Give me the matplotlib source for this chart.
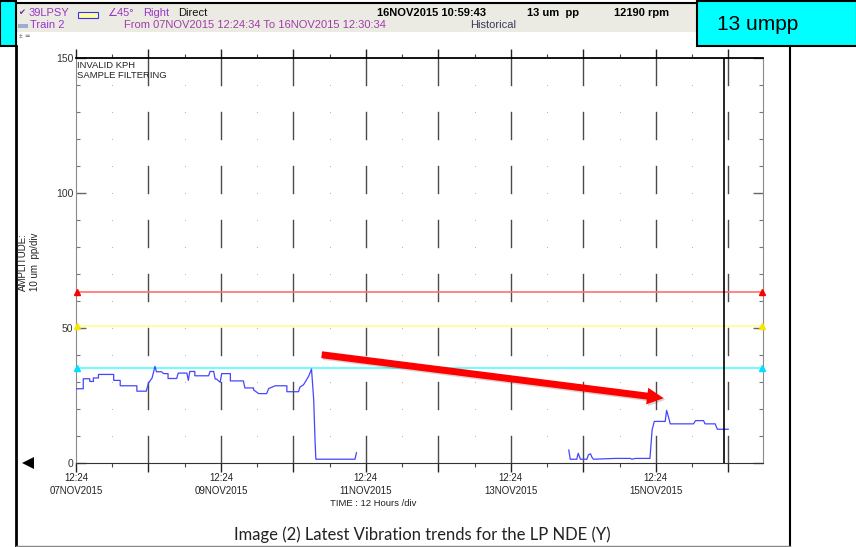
import matplotlib
matplotlib.use('Agg')
from matplotlib import pyplot as plt
from matplotlib.patches import Rectangle, Polygon
from matplotlib.lines import Line2D
import matplotlib.patheffects as pe

plt.rcParams['font.family'] = ['Liberation Sans', 'DejaVu Sans']

W, H = 856, 547

# time in days after 07NOV2015 12:24, amplitude in um pp
t1 = [0.00, 0.10, 0.10, 0.19, 0.19, 0.24, 0.24, 0.31, 0.31, 0.52, 0.52, 0.61, 0.61, 0.84,
      0.84, 0.97, 1.00, 1.05, 1.09, 1.11, 1.18, 1.21, 1.27, 1.27, 1.39, 1.41, 1.53, 1.55,
      1.57, 1.64, 1.64, 1.83, 1.85, 1.90, 1.92, 1.94, 1.99, 2.01, 2.13, 2.13, 2.31, 2.33,
      2.45, 2.45, 2.52, 2.63, 2.66, 2.75, 2.91, 2.91, 3.07, 3.09, 3.14, 3.21, 3.25, 3.28,
      3.30, 3.31, 3.85, 3.87]
a1 = [27.5, 27.5, 31.2, 31.2, 30.2, 30.2, 31.5, 31.5, 32.8, 32.8, 30.6, 30.6, 28.6, 28.6,
      26.6, 26.6, 29.6, 31.5, 35.8, 33.8, 33.8, 33.1, 33.1, 31.3, 31.3, 33.3, 33.3, 30.6,
      33.9, 33.9, 32.3, 32.3, 33.9, 33.9, 31.1, 31.1, 29.9, 33.1, 33.1, 30.4, 30.4, 27.8,
      27.8, 27.1, 25.7, 25.7, 27.6, 28.6, 28.6, 26.4, 26.4, 28.1, 29.0, 32.1, 34.8, 23.4,
      7.3, 1.4, 1.4, 3.8]

t2 = [6.80, 6.82, 6.91, 6.93, 6.96, 7.05, 7.07, 7.10, 7.12, 7.14, 7.44, 7.65, 7.67, 7.72,
      7.92, 7.95, 7.98, 8.13, 8.15, 8.18, 8.20, 8.52, 8.55, 8.66, 8.68, 8.82, 8.85, 9.00]
a2 = [4.8, 1.4, 1.4, 3.6, 1.4, 1.4, 3.0, 3.4, 2.1, 1.4, 1.7, 1.7, 1.4, 1.7,
      1.7, 12.3, 15.4, 15.4, 19.5, 16.6, 14.5, 14.5, 15.7, 15.7, 14.5, 14.5, 12.5, 12.5]

alarm_levels = [63.2, 50.7, 35.1]
alarm_colors = ['#ff7070', '#ffff90', '#50ffff']
marker_colors = ['#ff0000', '#f5e600', '#00e0ff']

day_ticks = list(range(10))
day_labels = ['12:24\n07NOV2015', '', '12:24\n09NOV2015', '', '12:24\n11NOV2015', '',
              '12:24\n13NOV2015', '', '12:24\n15NOV2015', '']
half_ticks = [d + 0.5 for d in range(9)]
y_major = [0, 50, 100, 150]
y_minor = list(range(0, 151, 10))

cursor_day = 8.94  # 16NOV2015 10:59:43
x_end = 9.48

arrow_from = (3.39, 40.1)
arrow_to = (8.11, 24.0)


def fx(px):
    return px / W


def fy(py):
    return 1 - py / H


fig = plt.figure(figsize=(W / 100, H / 100), dpi=100)
ax = fig.add_axes([fx(76), 84 / H, 687 / W, 405 / H])

# dashed day gridlines and dotted half-day grid
for d in range(1, 10):
    for y0 in range(0, 150, 20):
        ax.plot([d, d], [y0, y0 + 10], color='#4a4a4a', lw=1.0, zorder=1)
for h in half_ticks:
    ax.plot([h] * len(y_minor[1:-1]), y_minor[1:-1], ls='none', marker='s', ms=0.7,
            color='#b5b5b5', mew=0, zorder=1)

# alarm lines
for lvl, c, mc in zip(alarm_levels, alarm_colors, marker_colors):
    ax.plot([0, x_end], [lvl, lvl], color=c, lw=1.2, zorder=2)
    ax.plot([0.02, x_end - 0.02], [lvl, lvl], ls='none', marker='^', ms=4.5, color=mc,
            clip_on=False, zorder=3)

# trend
ax.plot(t1, a1, color='#4545ff', lw=0.9, zorder=4)
ax.plot(t2, a2, color='#4545ff', lw=0.9, zorder=4)

# cursor
ax.plot([cursor_day, cursor_day], [0, 150], color='black', lw=1.2, zorder=5)

ax.set_xlim(0, x_end)
ax.set_ylim(0, 150)
ax.set_xticks(day_ticks)
ax.set_xticklabels(day_labels)
ax.set_xticks(half_ticks, minor=True)
ax.set_yticks(y_major)
ax.set_yticks(y_minor, minor=True)
ax.tick_params(axis='x', which='major', direction='out', length=6.5, width=1,
               top=True, color='#222222', labelsize=7, pad=1, labelcolor='#222222')
ax.tick_params(axis='x', which='minor', direction='out', length=3, width=0.8,
               top=True, color='#444444')
ax.tick_params(axis='y', which='major', direction='in', length=7, width=1, right=True,
               color='#666666', labelsize=7.5, pad=2, labelcolor='#333333')
ax.tick_params(axis='y', which='minor', direction='in', length=3, width=0.8, right=True,
               color='#777777')
for lab in ax.get_xticklabels():
    lab.set_linespacing(1.3)

ax.spines['top'].set_color('black')
ax.spines['top'].set_linewidth(1.3)
ax.spines['bottom'].set_color('#333333')
ax.spines['left'].set_color('#8a8a8a')
ax.spines['right'].set_color('#8a8a8a')

ax.text(0.002, 0.993, 'INVALID KPH\nSAMPLE FILTERING', transform=ax.transAxes, va='top',
        ha='left', fontsize=6.8, color='#222222', linespacing=1.15)

ax.annotate('', xy=arrow_to, xytext=arrow_from,
            arrowprops=dict(arrowstyle='simple,head_length=1.2,head_width=1.2,tail_width=0.5',
                            mutation_scale=10, color='#ff0000', lw=0, shrinkA=0, shrinkB=0,
                            path_effects=[pe.SimplePatchShadow(offset=(1.2, -1.2), alpha=0.18),
                                          pe.Normal()]),
            zorder=6)

# page frame
fig.add_artist(Line2D([fx(16), fx(16)], [fy(46), fy(547)], color='black', lw=2))
fig.add_artist(Line2D([fx(790), fx(790)], [fy(46), fy(547)], color='black', lw=1.5))
fig.add_artist(Line2D([fx(16), fx(790)], [fy(546), fy(546)], color='#888888', lw=1))

# header strip
fig.add_artist(Rectangle((fx(17), fy(32)), (697 - 17) / W, 29 / H,
                         facecolor='#ebebe3', edgecolor='none'))
fig.add_artist(Line2D([fx(16), fx(697)], [fy(3), fy(3)], color='black', lw=1.5))
fig.add_artist(Rectangle((fx(0), fy(46)), 16 / W, 45 / H, facecolor='#00ffff',
                         edgecolor='black', lw=1.5))
fig.add_artist(Rectangle((fx(697), fy(46)), 160 / W, 45 / H, facecolor='#00ffff',
                         edgecolor='black', lw=1.5))
fig.text(fx(717), fy(24), '13 umpp', fontsize=15, va='center', ha='left')

fig.add_artist(Rectangle((fx(78), fy(18)), 20 / W, 6 / H, facecolor='#ffff99',
                         edgecolor='#3333ff', lw=0.8))
fig.add_artist(Rectangle((fx(18), fy(28)), 10 / W, 4 / H, facecolor='#9aaed0',
                         edgecolor='none'))
purple = '#9a35c8'
hdr = dict(fontsize=8, va='center', ha='left')
fig.text(fx(18), fy(13), '\u2714', color='#6a2a8a', fontsize=6, va='center', ha='left')
fig.text(fx(29), fy(13), '39LPSY', color=purple, **hdr)
fig.text(fx(107), fy(13), '\u222045\u00b0', color=purple, **hdr)
fig.text(fx(143), fy(13), 'Right', color=purple, **hdr)
fig.text(fx(178), fy(13), 'Direct', color='#111111', **hdr)
fig.text(fx(377), fy(13), '16NOV2015 10:59:43', color='black', fontweight='bold', **hdr)
fig.text(fx(527), fy(13), '13 um  pp', color='black', fontweight='bold', **hdr)
fig.text(fx(614), fy(13), '12190 rpm', color='black', fontweight='bold', **hdr)
fig.text(fx(30), fy(25), 'Train 2', color=purple, **hdr)
fig.text(fx(124), fy(25), 'From 07NOV2015 12:24:34 To 16NOV2015 12:30:34', color='#a03ca8',
         **hdr)
fig.text(fx(470), fy(25), 'Historical', color='#3a3a5a', **hdr)
fig.text(fx(19), fy(37), '\u00b1 \u2256', color='#666666', fontsize=5, va='center', ha='left')

# axis captions
fig.text(fx(29), fy(291), 'AMPLITUDE:\n10 um  pp/div', rotation=90, ha='center', va='bottom',
         fontsize=7, color='#222222', linespacing=1.2)
fig.text(fx(373), fy(503), 'TIME : 12 Hours /div', ha='center', va='center', fontsize=6.8,
         color='#222222')
fig.add_artist(Polygon([(fx(22), fy(463)), (fx(34), fy(457)), (fx(34), fy(469))],
                       closed=True, facecolor='black', edgecolor='none'))

fig.text(fx(422), fy(535), 'Image (2) Latest Vibration trends for the LP NDE (Y)',
         ha='center', va='center', fontsize=12, color='#222222', family='Lato')

fig.savefig('out.png', dpi=100)
